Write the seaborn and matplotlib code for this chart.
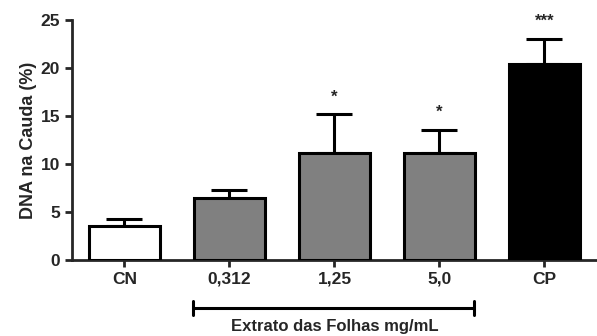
import matplotlib
matplotlib.use("Agg")
import matplotlib.pyplot as plt
import seaborn as sns
import pandas as pd

# Data
groups = ["CN", "0,312", "1,25", "5,0", "CP"]
means = [3.5, 6.45, 11.15, 11.15, 20.4]
sem = [0.75, 0.85, 4.05, 2.4, 2.65]
stars = ["", "", "*", "*", "***"]
colors = ["white", "#808080", "#808080", "#808080", "black"]

df = pd.DataFrame({"grupo": groups, "dna": means})

sns.set_style("ticks")
plt.rcParams["font.family"] = ["Liberation Sans", "DejaVu Sans"]
plt.rcParams["font.weight"] = "bold"

fig = plt.figure(figsize=(5.97, 3.36), dpi=100)
ax = fig.add_axes([0.1206, 0.2262, 0.8794, 0.7143])

sns.barplot(data=df, x="grupo", y="dna", hue="grupo", palette=colors,
            legend=False, errorbar=None, width=0.68, edgecolor="black",
            linewidth=2.2, ax=ax, zorder=3)

# upper-only error bars
ax.errorbar(range(len(groups)), means, yerr=[[0] * len(sem), sem],
            fmt="none", ecolor="black", elinewidth=2.2, capsize=13,
            capthick=2.2, zorder=2)

for i, s in enumerate(stars):
    if s:
        ax.text(i, means[i] + sem[i] + 1.8, s, ha="center", va="center",
                fontsize=12, fontweight="bold")

ax.set_ylim(0, 25)
ax.set_xlim(-0.5, 4.5)
ax.set_yticks([0, 5, 10, 15, 20, 25])
ax.set_xlabel("")
ax.set_ylabel("DNA na Cauda (%)", fontsize=13, fontweight="bold", labelpad=3)
ax.tick_params(axis="both", labelsize=12.5, width=2, length=5)
for lbl in ax.get_xticklabels() + ax.get_yticklabels():
    lbl.set_fontweight("bold")

sns.despine(ax=ax)
ax.spines["left"].set_linewidth(2)
ax.spines["bottom"].set_linewidth(2)

# bracket under the extract concentrations
tr = ax.get_xaxis_transform()
x0, x1, yb = 0.65, 3.33, -0.2
ax.plot([x0, x1], [yb, yb], color="black", lw=2.2, transform=tr, clip_on=False)
for xe in (x0, x1):
    ax.plot([xe, xe], [yb - 0.03, yb + 0.03], color="black", lw=2.2,
            transform=tr, clip_on=False)
ax.text(2.0, -0.245, "Extrato das Folhas mg/mL", transform=tr,
        ha="center", va="top", fontsize=12, fontweight="bold")

fig.savefig("out.png", dpi=100)
